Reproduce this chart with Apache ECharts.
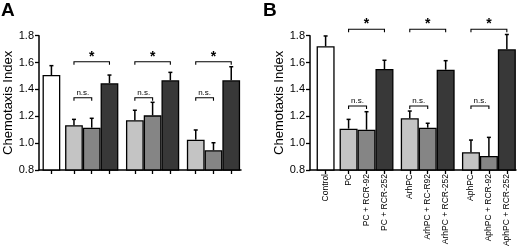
<!DOCTYPE html>
<html>
<head>
<meta charset="utf-8">
<script src="https://cdn.jsdelivr.net/npm/echarts@6/dist/echarts.min.js"></script>
<style>
  html, body { margin: 0; padding: 0; background: #fff; }
  #chart { width: 520px; height: 246px; }
</style>
</head>
<body>
<div id="chart"></div>
<script>
// panel A (no x labels in the figure)
const valuesA = [1.507, 1.133, 1.115, 1.446, 1.17, 1.207, 1.468, 1.026, 0.947, 1.468]
const errorsA = [0.07, 0.044, 0.07, 0.061, 0.075, 0.097, 0.059, 0.072, 0.056, 0.101]

// panel B
const categoriesB = [
  'Control',
  'PC', 'PC + RCR-92', 'PC + RCR-252',
  'ArhPC', 'ArhPC + RC-R92', 'ArhPC + RCR-252',
  'AphPC', 'AphPC + RCR-92', 'AphPC + RCR-252',
]
const valuesB = [1.721, 1.108, 1.10, 1.552, 1.185, 1.115, 1.547, 0.932, 0.904, 1.699]
const errorsB = [0.077, 0.069, 0.134, 0.065, 0.054, 0.033, 0.067, 0.091, 0.139, 0.11]

// group sizes: control, then three triplets
const groupSizes = [1, 3, 3, 3]

// significance marks: [first bar, last bar, label]
const sigStar = [[1, 3, '*'], [4, 6, '*'], [7, 9, '*']]
const sigNs = [[1, 2, 'n.s.'], [4, 5, 'n.s.'], [7, 8, 'n.s.']]
const sigLevelsA = { star: 1.606, ns: 1.338 }
const sigLevelsB = { star: 1.848, ns: 1.277 }

const FONT = '"Liberation Sans", Arial, sans-serif'
const barColors = ['#ffffff', '#c4c4c4', '#858585', '#383838']

// bar centres in "bar width" units, first gap is narrower
function layout(gaps) {
  const pos = []
  let x = 0
  groupSizes.forEach((n, g) => {
    if (g > 0) x += gaps[g - 1]
    for (let i = 0; i < n; i++) {
      pos.push(x)
      x += 1
    }
  })
  return pos
}

const posA = layout([0.27, 0.43, 0.43])
const posB = layout([0.28, 0.41, 0.41])

function colorOf(i) {
  if (i === 0) return barColors[0]
  return barColors[((i - 1) % 3) + 1]
}

function barSeries(idx, pos, values, width) {
  return {
    type: 'bar',
    xAxisIndex: idx,
    yAxisIndex: idx,
    barWidth: width,
    z: 2,
    data: values.map((v, i) => ({
      value: [pos[i], v],
      itemStyle: { color: colorOf(i), borderColor: '#000', borderWidth: 1.3 },
    })),
  }
}

function errorSeries(idx, pos, values, errors) {
  return {
    type: 'custom',
    xAxisIndex: idx,
    yAxisIndex: idx,
    z: 3,
    data: values.map((v, i) => [pos[i], v, errors[i]]),
    encode: { x: 0, y: 1 },
    renderItem: (params, api) => {
      const x = api.value(0)
      const v = api.value(1)
      const e = api.value(2)
      const p0 = api.coord([x, v])
      const p1 = api.coord([x, v + e])
      const style = { stroke: '#000', lineWidth: 1.5 }
      return {
        type: 'group',
        children: [
          { type: 'line', shape: { x1: p0[0], y1: p0[1], x2: p1[0], y2: p1[1] }, style },
          { type: 'line', shape: { x1: p1[0] - 2, y1: p1[1], x2: p1[0] + 2, y2: p1[1] }, style },
        ],
      }
    },
  }
}

function sigSeries(idx, pos, marks, level, isStar) {
  return {
    type: 'custom',
    xAxisIndex: idx,
    yAxisIndex: idx,
    z: 4,
    clip: false,
    data: marks.map((m) => [pos[m[0]], pos[m[1]], level, m[2]]),
    encode: { x: [0, 1], y: 2 },
    renderItem: (params, api) => {
      const a = api.coord([api.value(0), api.value(2)])
      const b = api.coord([api.value(1), api.value(2)])
      const style = { stroke: '#000', lineWidth: 1.1, fill: null }
      return {
        type: 'group',
        children: [
          {
            type: 'polyline',
            shape: { points: [[a[0], a[1] + 3], a, b, [b[0], b[1] + 3]] },
            style,
          },
          {
            type: 'text',
            x: (a[0] + b[0]) / 2,
            y: a[1] - 5,
            style: {
              text: api.value(3),
              fill: '#000',
              font: isStar ? `bold 14px ${FONT}` : `8px ${FONT}`,
              align: 'center',
              verticalAlign: 'middle',
            },
          },
        ],
      }
    },
  }
}

function yAxis(idx) {
  return {
    type: 'value',
    gridIndex: idx,
    min: 0.8,
    max: 1.8,
    interval: 0.2,
    name: 'Chemotaxis Index',
    nameLocation: 'middle',
    nameRotate: 90,
    nameGap: 24,
    nameTextStyle: { color: '#000', fontSize: 13, fontFamily: FONT },
    axisLine: { show: true, onZero: false, lineStyle: { color: '#000', width: 1.5 } },
    axisTick: { show: true, length: 4, lineStyle: { color: '#000', width: 1.3 } },
    axisLabel: {
      color: '#000',
      fontSize: 11,
      fontFamily: FONT,
      margin: 5,
      formatter: (v) => v.toFixed(1),
    },
    splitLine: { show: false },
  }
}

function xAxis(idx, pos, min, max, labels) {
  return {
    type: 'value',
    gridIndex: idx,
    min,
    max,
    axisLine: { show: true, onZero: false, lineStyle: { color: '#000', width: 1.5 } },
    axisTick: {
      show: true,
      length: 4,
      customValues: pos,
      lineStyle: { color: '#000', width: 1.3 },
    },
    axisLabel: labels
      ? {
          show: true,
          customValues: pos,
          rotate: 90,
          margin: 4,
          color: '#000',
          fontSize: 8.5,
          fontFamily: FONT,
          formatter: (v) => {
            const i = pos.findIndex((p) => Math.abs(p - v) < 1e-6)
            return i >= 0 ? labels[i] : ''
          },
        }
      : { show: false },
    splitLine: { show: false },
  }
}

const chart = echarts.init(document.getElementById('chart'), null, { renderer: 'canvas' })

const option = {
  animation: false,
  backgroundColor: '#fff',
  title: [
    { text: 'A', left: 1, top: 1, textStyle: { fontSize: 19, fontWeight: 'bold', fontFamily: FONT, color: '#000' }, padding: 0 },
    { text: 'B', left: 263, top: 1, textStyle: { fontSize: 19, fontWeight: 'bold', fontFamily: FONT, color: '#000' }, padding: 0 },
  ],
  grid: [
    { left: 39, top: 35.7, width: 202, height: 134.3, outerBoundsMode: 'none' },
    { left: 310, top: 35.7, width: 206, height: 134.3, outerBoundsMode: 'none' },
  ],
  xAxis: [
    xAxis(0, posA, -0.70, posA[9] + 0.55, null),
    xAxis(1, posB, -0.87, posB[9] + 0.51, categoriesB),
  ],
  yAxis: [yAxis(0), yAxis(1)],
  series: [
    barSeries(0, posA, valuesA, 17.75),
    errorSeries(0, posA, valuesA, errorsA),
    sigSeries(0, posA, sigStar, sigLevelsA.star, true),
    sigSeries(0, posA, sigNs, sigLevelsA.ns, false),
    barSeries(1, posB, valuesB, 18),
    errorSeries(1, posB, valuesB, errorsB),
    sigSeries(1, posB, sigStar, sigLevelsB.star, true),
    sigSeries(1, posB, sigNs, sigLevelsB.ns, false),
  ],
}

chart.setOption(option)
</script>
</body>
</html>
